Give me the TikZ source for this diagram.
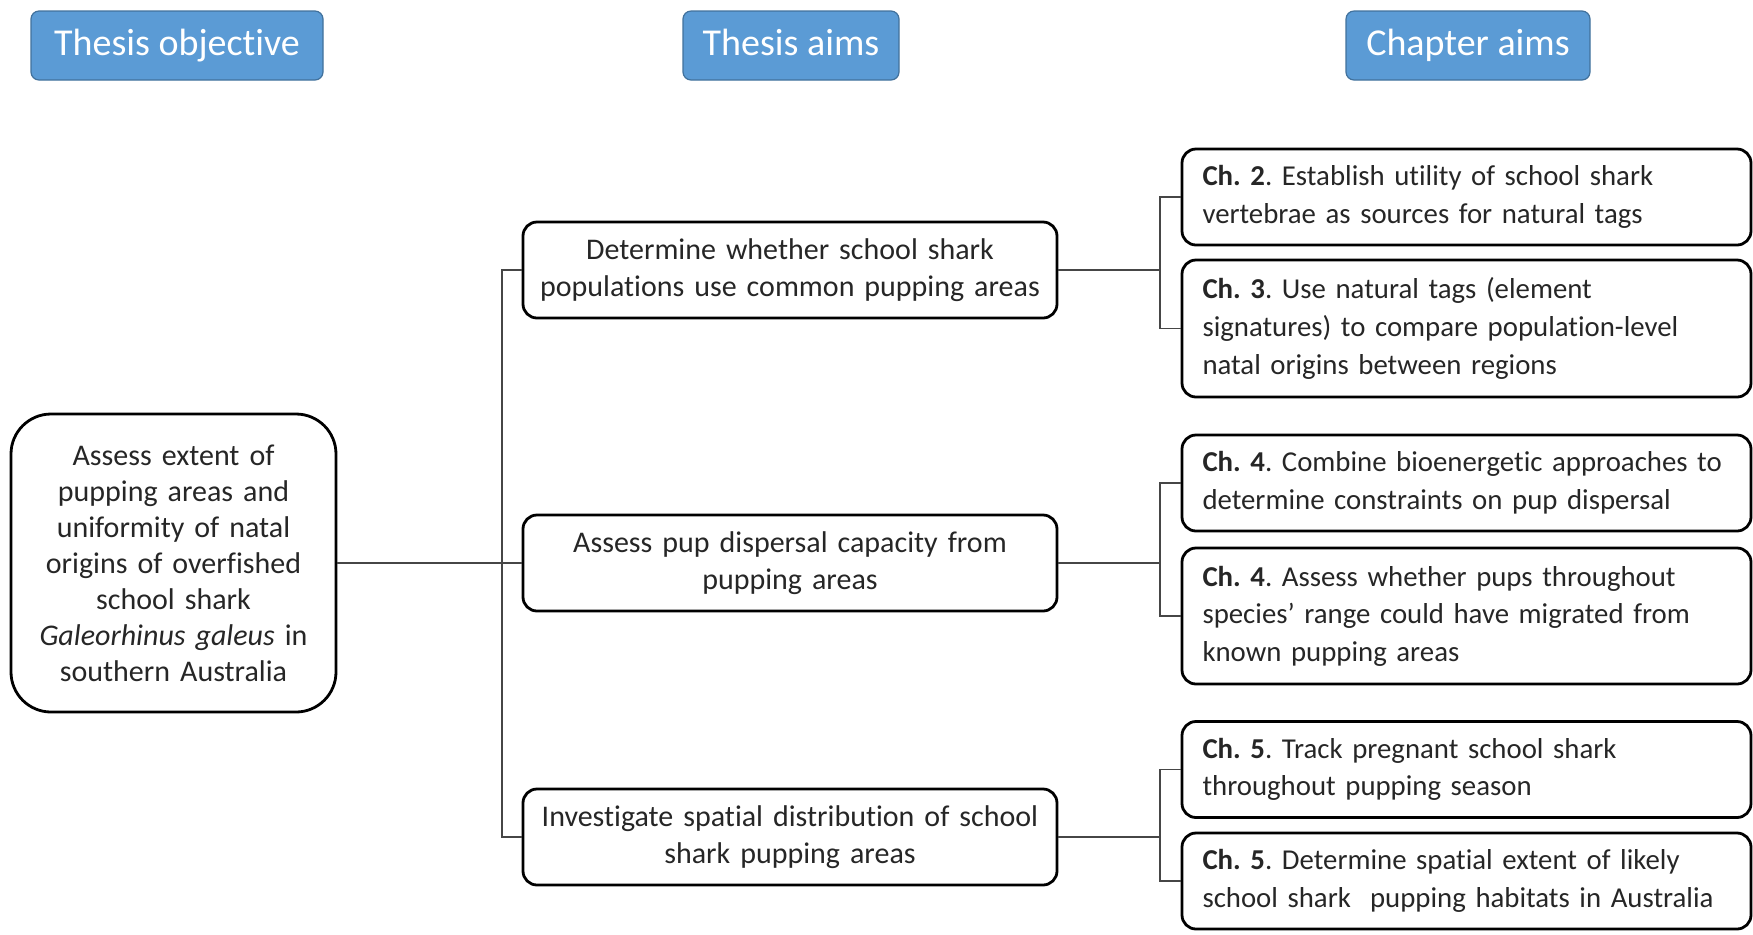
\documentclass[tikz,border=0pt]{standalone}
\usepackage{fontspec}
\setmainfont{Carlito}[Ligatures=NoCommon]
\usetikzlibrary{positioning}
\frenchspacing
\hyphenpenalty=10000
\definecolor{headFill}{RGB}{ 91,155,213}
\definecolor{headEdge}{RGB}{ 65,113,156}
\definecolor{txtGray}{RGB}{ 38, 38, 38}
\definecolor{lnGray}{RGB}{ 70, 70, 70}
\tikzset{
  hd/.style  ={rectangle, rounded corners=4pt, draw=headEdge, fill=headFill, line width=0.6pt,
               text=white, font=\fontsize{19}{23}\selectfont, minimum height=34.5pt, inner sep=0pt,
               text height=13.5pt, text depth=4pt},
  obj/.style ={rectangle, rounded corners=20pt, draw=black, line width=1.4pt, text=txtGray,
               minimum width=162.5pt, minimum height=149pt, text width=150pt, align=center,
               font=\fontsize{15}{18}\selectfont, inner sep=6pt},
  aim/.style ={rectangle, rounded corners=7pt, draw=black, line width=1.4pt, text=txtGray,
               minimum width=267pt, minimum height=48pt, text width=255pt, align=center,
               font=\fontsize{15}{18.5}\selectfont, inner sep=6pt},
  ch/.style  ={rectangle, rounded corners=7pt, draw=black, line width=1.4pt, text=txtGray,
               minimum width=284.5pt, minimum height=48pt, text width=264pt, align=left,
               font=\fontsize{14.4}{18.8}\selectfont, inner xsep=10pt, inner ysep=4pt},
  ln/.style  ={draw=lnGray, line width=0.7pt},
}

\begin{document}
\begin{tikzpicture}[x=0.5pt, y=-0.5pt]
\useasboundingbox (0,0) rectangle (1753,934);
% column heads
\node[hd, minimum width=146pt] (hobj) at (177,45.5) {Thesis objective};
\node[hd, minimum width=108pt] (haim) at (791,45.5) {Thesis aims};
\node[hd, minimum width=122pt] (hch)  at (1468,45.5) {Chapter aims};
% objective
\node[obj] (goal) at (173.5,563) {Assess extent of\\ pupping areas and\\
   uniformity of natal\\ origins of overfished\\ school shark\\
   \textit{Galeorhinus galeus} in\\ southern Australia};
% thesis aims
\node[aim] (m1) at (790,270) {Determine whether school shark\\
   populations use common pupping areas};
\node[aim] (m2) at (790,563) {Assess pup dispersal capacity from\\ pupping areas};
\node[aim] (m3) at (790,837) {Investigate spatial distribution of school\\
   shark pupping areas};
% chapter aims
\node[ch] (c2) at (1466.5,197) {\textbf{Ch. 2}. Establish utility of school shark\\
   vertebrae as sources for natural tags};
\node[ch, minimum height=68.5pt] (c3) at (1466.5,328.5) {\textbf{Ch. 3}. Use natural tags (element\\
   signatures) to compare population-level\\ natal origins between regions};
\node[ch] (c4) at (1466.5,483) {\textbf{Ch. 4}. Combine bioenergetic approaches to\\
   determine constraints on pup dispersal};
\node[ch, minimum height=68pt] (c5) at (1466.5,616) {\textbf{Ch. 4}. Assess whether pups throughout\\
   species’ range could have migrated from\\ known pupping areas};
\node[ch] (c6) at (1466.5,769.5) {\textbf{Ch. 5}. Track pregnant school shark\\
   throughout pupping season};
\node[ch] (c7) at (1466.5,881) {\textbf{Ch. 5}. Determine spatial extent of likely\\
   school shark\ \ pupping habitats in Australia};
% brackets
\coordinate (bl) at (502,0);
\coordinate (br) at (1160,0);
\draw[ln] (goal.east) -- (m2.west);
\draw[ln] (m1.west) -- (m1.west -| bl) -- (m3.west -| bl) -- (m3.west);
\foreach \m/\p/\q in {m1/c2/c3, m2/c4/c5, m3/c6/c7} {
  \draw[ln] (\m.east) -- (\m.east -| br);
  \draw[ln] (\p.west) -- (\p.west -| br) -- (\q.west -| br) -- (\q.west);
}
\end{tikzpicture}
\end{document}
